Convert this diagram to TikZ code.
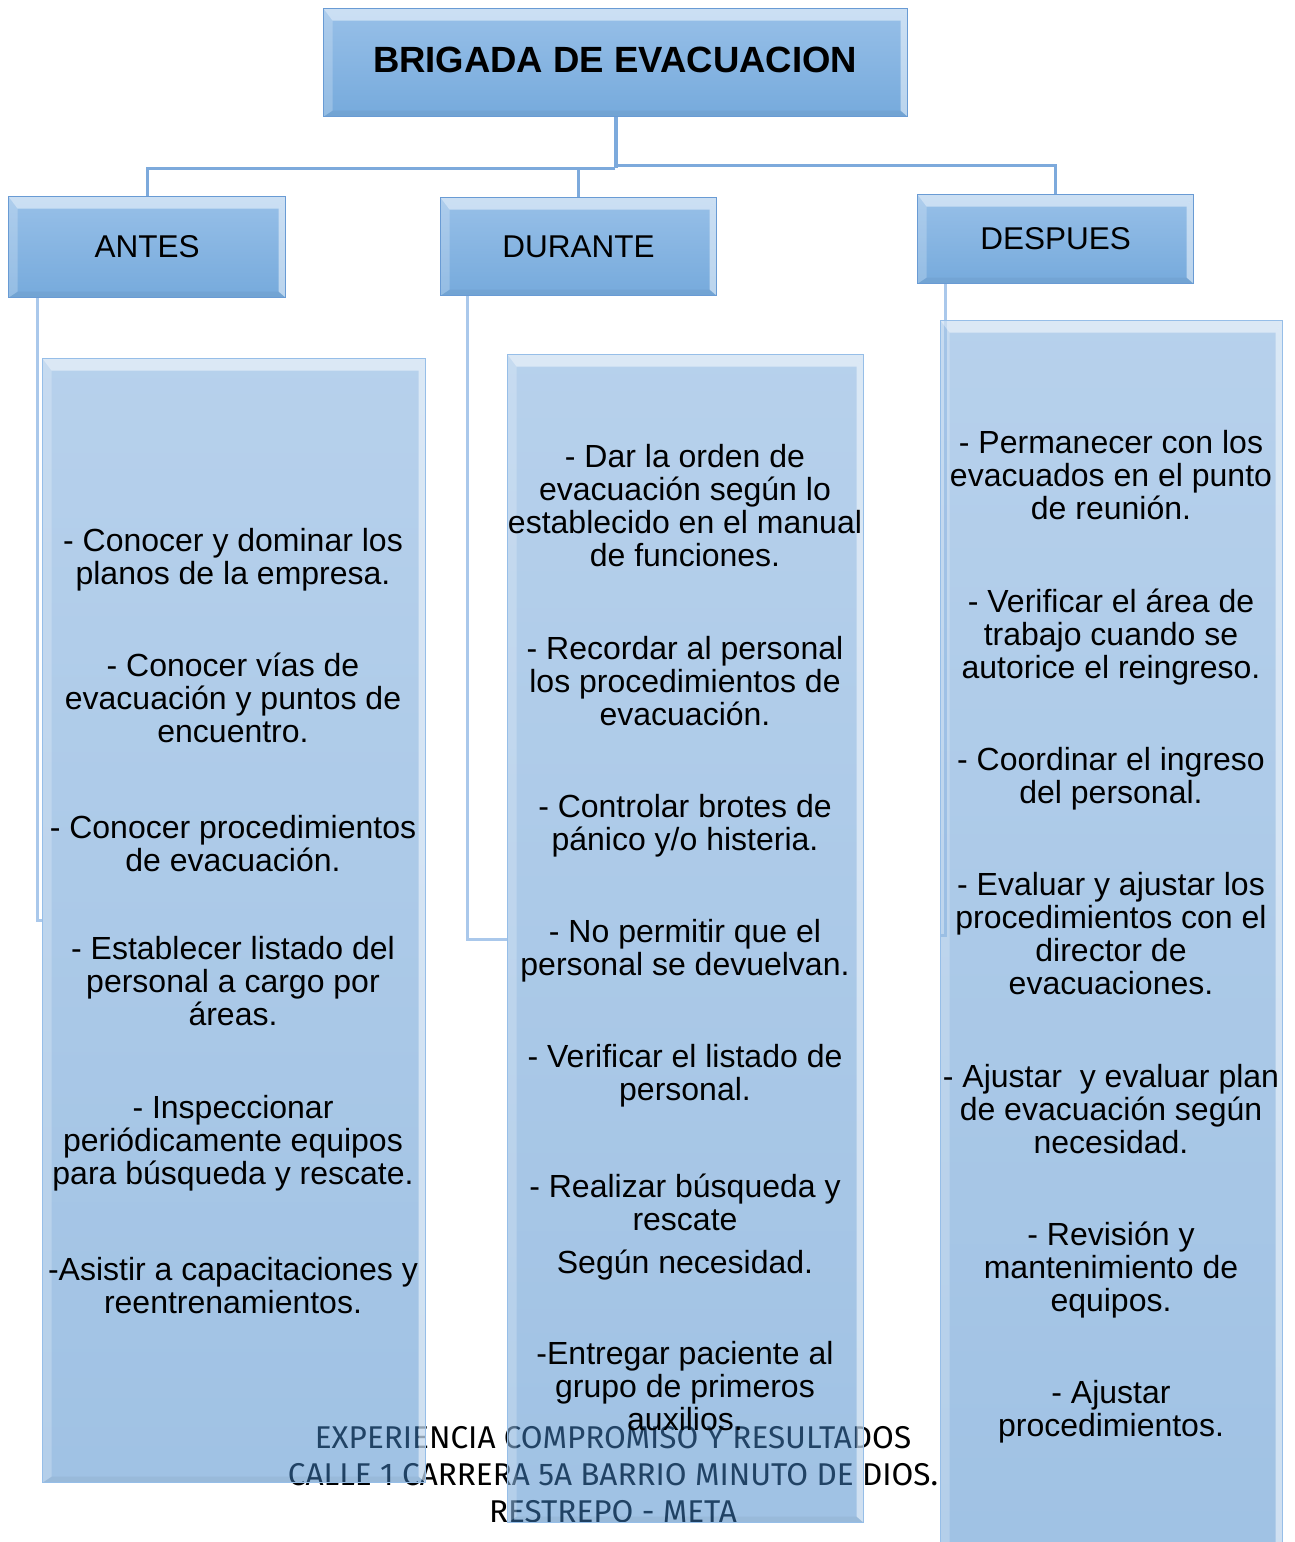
\documentclass[tikz,border=0pt]{standalone}
\usepackage{fontspec}
\setmainfont{Liberation Sans}
\newfontfamily\footfont{Fira Sans}
\definecolor{hdrtop}{RGB}{152,192,232}
\definecolor{hdrbot}{RGB}{118,170,220}
\definecolor{hdrborder}{RGB}{105,155,212}
\definecolor{cnttop}{RGB}{111,163,217}
\definecolor{cntbot}{RGB}{65,133,201}
\definecolor{cntborder}{RGB}{150,190,232}
\definecolor{linkc}{RGB}{125,170,220}
\definecolor{brackc}{RGB}{170,200,235}
\begin{document}
\begin{tikzpicture}[x=1pt,y=-1pt,
  bevel/.style={path picture={
    \path (path picture bounding box.north west) coordinate (bNW)
          (path picture bounding box.north east) coordinate (bNE)
          (path picture bounding box.south west) coordinate (bSW)
          (path picture bounding box.south east) coordinate (bSE);
    \fill[white,opacity=0.5] (bNW) -- (bNE) -- ([xshift=-7pt,yshift=-12pt]bNE) -- ([xshift=9pt,yshift=-12pt]bNW) -- cycle;
    \fill[white,opacity=0.22] (bNW) -- ([xshift=9pt,yshift=-12pt]bNW) -- ([xshift=9pt,yshift=6pt]bSW) -- (bSW) -- cycle;
    \fill[white,opacity=0.5] (bNE) -- ([xshift=-7pt,yshift=-12pt]bNE) -- ([xshift=-7pt,yshift=6pt]bSE) -- (bSE) -- cycle;
    \fill[black,opacity=0.04] (bSW) -- ([xshift=9pt,yshift=6pt]bSW) -- ([xshift=-7pt,yshift=6pt]bSE) -- (bSE) -- cycle;
  }},
  hdr/.style={draw=hdrborder, line width=1.2pt, top color=hdrtop, bottom color=hdrbot, bevel,
    inner sep=0pt, anchor=north west, font=\fontsize{31.5}{33}\selectfont},
  cnt/.style={draw=cntborder, line width=1.2pt, top color=cnttop, bottom color=cntbot, fill opacity=0.5,
    draw opacity=1, bevel, inner sep=0pt, anchor=north west},
  item/.style={align=center, inner sep=0pt, font=\fontsize{32}{33}\selectfont, text=black},
  foot/.style={inner sep=0pt, font=\footfont\fontsize{31.5}{32}\selectfont, text=black},
  link/.style={draw=linkc, line width=3pt},
  brack/.style={draw=brackc, line width=3pt}]
\useasboundingbox (0,0) rectangle (1295,1542);

% title and headers
\node[hdr, minimum width=584pt, minimum height=108pt] (title) at (323,8) {};
\node[font=\bfseries\fontsize{36.5}{38}\selectfont, inner sep=0pt] (titletext) at (615,60) {BRIGADA DE EVACUACION};
\node[hdr, minimum width=277pt, minimum height=101pt] (antes) at (8,196) {ANTES};
\node[hdr, minimum width=276pt, minimum height=98pt] (durante) at (440,197) {DURANTE};
\node[hdr, minimum width=276pt, minimum height=89pt] (despues) at (917,194) {DESPUES};

% tree connectors
\coordinate (jl) at (615,168);
\coordinate (jr) at (615,165);
\draw[link, line width=4pt] (title.south) -- (title.south |- jl);
\draw[link] (jl) -- (jl -| antes.north) -- (antes.north);
\draw[link] (jl) -- (jl -| durante.north) -- (durante.north);
\draw[link] (jr) -- (jr -| despues.north) -- (despues.north);

% footer (behind the translucent boxes)
\node[foot] (f1) at (613,1438) {EXPERIENCIA COMPROMISO Y RESULTADOS};
\node[foot] (f2) at (613,1475) {CALLE 1 CARRERA 5A BARRIO MINUTO DE DIOS.};
\node[foot] (f3) at (613,1512) {RESTREPO - META};

% bracket lines
\coordinate (ba) at (37,920);
\coordinate (bd) at (467,939);
\coordinate (bp) at (945,935);
\draw[brack] (antes.south -| ba) -- (ba) -- (42,920);
\draw[brack] (durante.south -| bd) -- (bd) -- (507,939);
\draw[brack] (despues.south -| bp) -- (bp) -- (940,935);

% content boxes
\node[cnt, minimum width=383pt, minimum height=1124pt] (ca) at (42,358) {};
\node[cnt, minimum width=356pt, minimum height=1168pt] (cd) at (507,354) {};
\node[cnt, minimum width=342pt, minimum height=1230pt] (cp) at (940,320) {};

% ANTES items
\node[item] (a1) at (233,560) {- Conocer y dominar los\\planos de la empresa.};
\node[item] (a2) at (233,698) {- Conocer vías de\\evacuación y puntos de\\encuentro.};
\node[item] (a3) at (233,844) {- Conocer procedimientos\\de evacuación.};
\node[item] (a4) at (233,981) {- Establecer listado del\\personal a cargo por\\áreas.};
\node[item] (a5) at (233,1143) {- Inspeccionar\\periódicamente equipos\\para búsqueda y rescate.};
\node[item] (a6) at (233,1286) {-Asistir a capacitaciones y\\reentrenamientos.};

% DURANTE items
\node[item] (d1) at (685,506) {- Dar la orden de\\evacuación según lo\\establecido en el manual\\de funciones.};
\node[item] (d2) at (685,681) {- Recordar al personal\\los procedimientos de\\evacuación.};
\node[item] (d3) at (685,826) {- Controlar brotes de\\pánico y/o histeria.};
\node[item] (d4) at (685,951) {- No permitir que el\\personal se devuelvan.};
\node[item] (d5) at (685,1076) {- Verificar el listado de\\personal.};
\node[item] (d6) at (685,1202) {- Realizar búsqueda y\\rescate};
\node[item] (d6b) at (685,1265) {Según necesidad.};
\node[item] (d7) at (685,1386) {-Entregar paciente al\\grupo de primeros\\auxilios.};

% DESPUES items
\node[item] (p1) at (1111,475) {- Permanecer con los\\evacuados en el punto\\de reunión.};
\node[item] (p2) at (1111,637) {- Verificar el área de\\trabajo cuando se\\autorice el reingreso.};
\node[item] (p3) at (1111,779) {- Coordinar el ingreso\\del personal.};
\node[item] (p4) at (1111,934) {- Evaluar y ajustar los\\procedimientos con el\\director de\\evacuaciones.};
\node[item] (p5) at (1111,1109) {- Ajustar \ y evaluar plan\\de evacuación según\\necesidad.};
\node[item] (p6) at (1111,1270) {- Revisión y\\mantenimiento de\\equipos.};
\node[item] (p7) at (1111,1412) {- Ajustar\\procedimientos.};
\end{tikzpicture}
\end{document}
